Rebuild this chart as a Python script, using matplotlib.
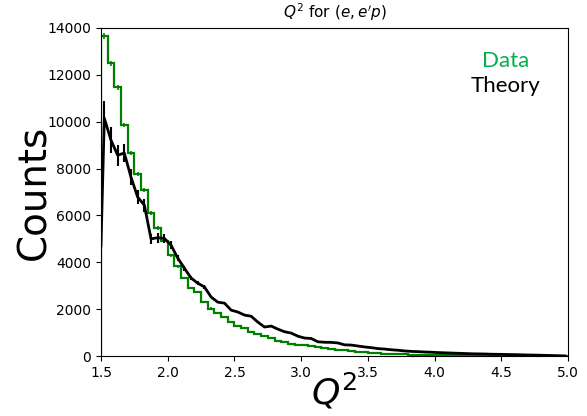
import numpy as np
import matplotlib
matplotlib.use('Agg')
import matplotlib.pyplot as plt

# 数据：Q^2 分箱 (1.5 - 5.0, 宽 0.05)
bin_edges = np.round(np.arange(1.5, 5.0001, 0.05), 3)

data_counts = [13650, 12490, 11470, 9850, 8660, 7760, 7080, 6100, 5460, 4900,
               4310, 3840, 3330, 2900, 2740, 2320, 2030, 1850, 1680, 1460,
               1300, 1180, 1020, 950, 870, 760, 640, 600, 520, 490,
               470, 420, 390, 360, 300, 270, 240, 210, 190, 170,
               150, 125, 110, 95, 80, 70, 62, 55, 50, 45,
               40, 36, 33, 30, 27, 24, 22, 20, 18, 16,
               14, 13, 11, 10, 9, 8, 7, 6, 5, 4]

theory_counts = [10150, 9210, 8570, 8660, 7630, 6780, 6440, 5000, 5050, 5020,
                 4730, 4180, 3750, 3330, 3110, 2950, 2520, 2300, 2260, 1960,
                 1880, 1750, 1700, 1450, 1240, 1280, 1150, 1040, 980, 850,
                 770, 750, 610, 590, 585, 560, 480, 470, 430, 390,
                 360, 320, 300, 270, 250, 220, 200, 190, 175, 165,
                 150, 140, 130, 120, 110, 100, 95, 90, 80, 75,
                 70, 65, 60, 50, 45, 40, 30, 25, 15, 8]

theory_err = [750, 550, 450, 380, 350, 300, 280, 220, 220, 200,
              180, 130, 100, 90, 80, 70, 60, 55, 50, 45,
              40, 38, 36, 32, 28, 28, 26, 24, 22, 20,
              18, 18, 15, 15, 15, 14, 12, 12, 11, 10,
              10, 9, 8, 8, 7, 6, 6, 5, 5, 5,
              4, 4, 4, 3, 3, 3, 3, 3, 2, 2,
              2, 2, 2, 2, 1, 1, 1, 1, 1, 1]

theory_start = 4700   # 曲线在 Q^2 = 1.5 处的起点

centers = (bin_edges[:-1] + bin_edges[1:]) / 2
data_counts = np.array(data_counts)

fig = plt.figure(figsize=(5.87, 4.16), dpi=100)
ax = fig.add_axes([0.172, 0.144, 0.796, 0.789])

# Data: 阶梯直方图 + 统计误差
ax.stairs(data_counts, bin_edges, color='green', linewidth=1.6)
ax.errorbar(centers, data_counts, yerr=np.sqrt(data_counts), fmt='none',
            ecolor='green', elinewidth=1.2)

# Theory: 折线 + 误差棒
tx = np.concatenate([[bin_edges[0]], centers])
ty = np.concatenate([[theory_start], theory_counts])
ax.plot(tx, ty, color='black', linewidth=2)
ax.errorbar(centers, theory_counts, yerr=theory_err, fmt='none',
            ecolor='black', elinewidth=1.5)

ax.set_xlim(1.5, 5.0)
ax.set_ylim(0, 14000)
ax.set_xticks(np.arange(1.5, 5.01, 0.5))
ax.set_yticks(np.arange(0, 14001, 2000))
ax.tick_params(labelsize=10)

ax.set_title(r"$Q^2$ for $(e, e'p)$", fontsize=11, pad=7)
ax.set_xlabel(r"$Q^2$", fontsize=26, labelpad=-6)
ax.set_ylabel("Counts", fontsize=28, labelpad=-4)

ax.text(0.865, 0.90, "Data", transform=ax.transAxes, color='#00b050',
        fontsize=16, ha='center', va='center', family='Lato')
ax.text(0.865, 0.823, "Theory", transform=ax.transAxes, color='black',
        fontsize=16, ha='center', va='center', family='Lato')

plt.savefig('out.png', dpi=100)
